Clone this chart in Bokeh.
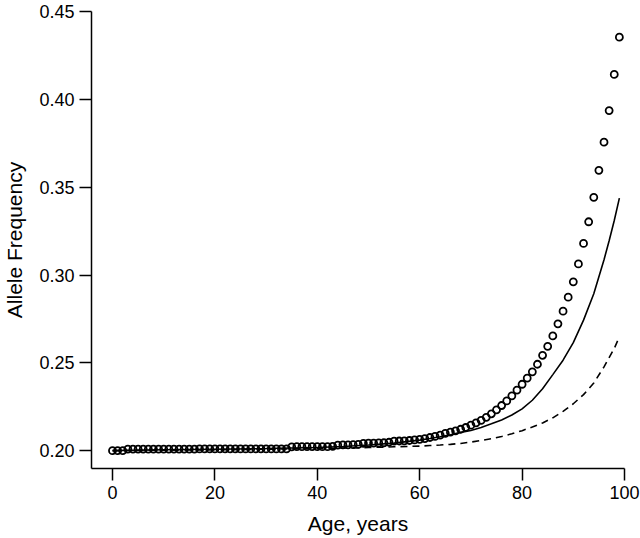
from bokeh.plotting import figure
from bokeh.models import Range1d, FixedTicker
from bokeh.embed import file_html
from bokeh.resources import INLINE

# ---- data ----
ages = list(range(100))
observed = [
    0.2000, 0.2000, 0.2000, 0.2009, 0.2009, 0.2009, 0.2009, 0.2009, 0.2009, 0.2009,
    0.2009, 0.2009, 0.2009, 0.2009, 0.2009, 0.2009, 0.2009, 0.2010, 0.2010, 0.2010,
    0.2010, 0.2010, 0.2010, 0.2010, 0.2010, 0.2010, 0.2010, 0.2010, 0.2010, 0.2010,
    0.2010, 0.2010, 0.2010, 0.2010, 0.2010, 0.2022, 0.2023, 0.2023, 0.2023, 0.2023,
    0.2023, 0.2023, 0.2023, 0.2024, 0.2032, 0.2033, 0.2033, 0.2034, 0.2036, 0.2042,
    0.2043, 0.2043, 0.2044, 0.2045, 0.2048, 0.2054, 0.2055, 0.2056, 0.2058, 0.2061,
    0.2064, 0.2069, 0.2075, 0.2081, 0.2089, 0.2098, 0.2105, 0.2113, 0.2122, 0.2132,
    0.2145, 0.2158, 0.2173, 0.2190, 0.2210, 0.2232, 0.2257, 0.2283, 0.2312, 0.2345,
    0.2378, 0.2413, 0.2449, 0.2492, 0.2543, 0.2594, 0.2653, 0.2722, 0.2794, 0.2874,
    0.2961, 0.3063, 0.3180, 0.3303, 0.3442, 0.3596, 0.3756, 0.3936, 0.4142, 0.4354,
]

curve_ages = [0, 10, 20, 30, 40, 45, 50, 55, 60, 62, 64, 66, 68, 70, 72, 74, 76, 78,
              80, 82, 84, 86, 88, 90, 92, 94, 96, 97, 98, 99]
solid_vals = [0.2000, 0.2005, 0.2008, 0.2012, 0.2018, 0.2024, 0.2032, 0.2043, 0.2060, 0.2069,
              0.2079, 0.2091, 0.2104, 0.2115, 0.2132, 0.2153, 0.2175, 0.2203, 0.2238, 0.2287,
              0.2352, 0.2433, 0.2515, 0.2615, 0.2743, 0.2893, 0.3087, 0.3195, 0.3310, 0.3438]
dashed_vals = [0.2000, 0.2003, 0.2005, 0.2008, 0.2012, 0.2015, 0.2018, 0.2022, 0.2026, 0.2029,
               0.2032, 0.2036, 0.2041, 0.2049, 0.2058, 0.2068, 0.2081, 0.2096, 0.2114, 0.2135,
               0.2158, 0.2187, 0.2224, 0.2267, 0.2319, 0.2385, 0.2477, 0.2530, 0.2582, 0.2648]

x_ticks = [0, 20, 40, 60, 80, 100]
y_ticks = [0.20, 0.25, 0.30, 0.35, 0.40, 0.45]
y_tick_labels = ["0.20", "0.25", "0.30", "0.35", "0.40", "0.45"]

x_title = "Age, years"
y_title = "Allele Frequency"

FONT = "Liberation Sans"

p = figure(width=640, height=538, output_backend="svg", toolbar_location=None,
           x_range=Range1d(-4.1, 100), y_range=Range1d(0.18985, 0.45))
p.min_border_left = 91
p.min_border_right = 16
p.min_border_top = 11
p.min_border_bottom = 70
p.outline_line_color = None
p.xgrid.visible = False
p.ygrid.visible = False
p.background_fill_color = "white"
p.border_fill_color = "white"

p.line(curve_ages, solid_vals, line_color="black", line_width=1.6)
p.line(curve_ages, dashed_vals, line_color="black", line_width=1.6, line_dash="7 5")
p.scatter(ages, observed, marker="circle", size=7, line_color="black", line_width=1.8,
          fill_color=None)

for ax in (p.xaxis[0], p.yaxis[0]):
    ax.major_tick_out = 12
    ax.major_tick_in = 0
    ax.minor_tick_line_color = None
    ax.axis_line_width = 1.5
    ax.major_tick_line_width = 1.5
    ax.axis_line_color = "black"
    ax.major_tick_line_color = "black"
    ax.major_label_text_font = FONT
    ax.major_label_text_font_size = "18px"
    ax.major_label_text_color = "black"
    ax.axis_label_text_font = FONT
    ax.axis_label_text_font_size = "21px"
    ax.axis_label_text_font_style = "normal"
    ax.axis_label_text_color = "black"

p.xaxis[0].ticker = FixedTicker(ticks=x_ticks)
p.yaxis[0].ticker = FixedTicker(ticks=y_ticks)
p.yaxis[0].major_label_overrides = {t: l for t, l in zip(y_ticks, y_tick_labels)}
p.xaxis[0].axis_label = x_title
p.yaxis[0].axis_label = y_title
p.xaxis[0].major_label_standoff = 5
p.yaxis[0].major_label_standoff = 5
p.xaxis[0].axis_label_standoff = 10
p.yaxis[0].axis_label_standoff = 10

open("out.html", "w").write(file_html(p, INLINE))
